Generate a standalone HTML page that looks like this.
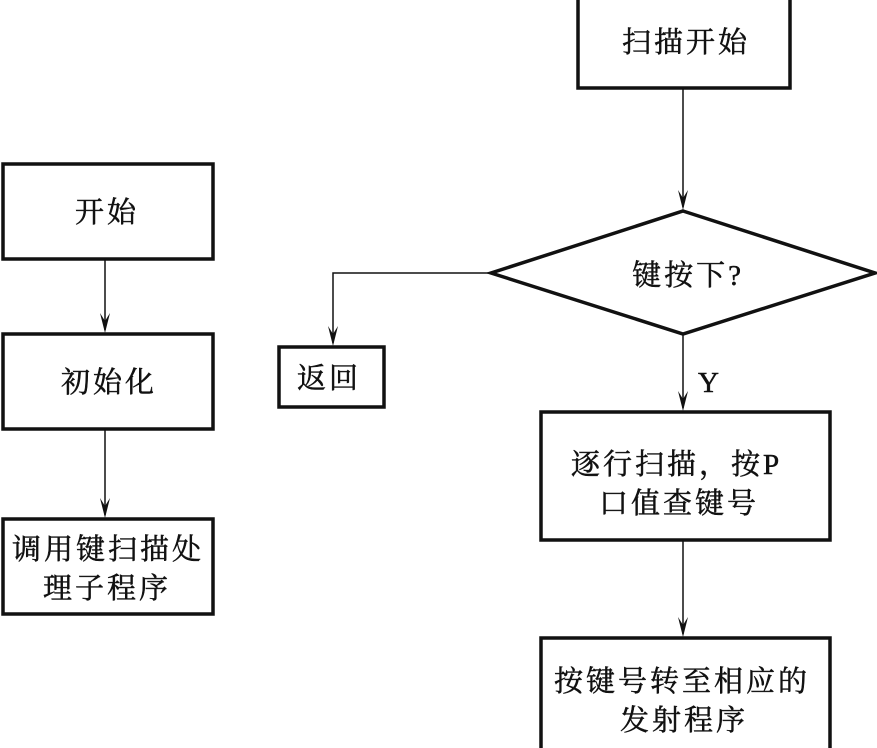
<!DOCTYPE html>
<html><head><meta charset="utf-8"><style>
html,body{margin:0;padding:0;background:#fff;width:877px;height:748px;overflow:hidden}
text{font-family:"Liberation Serif","Noto Serif CJK SC",serif;font-size:29px;letter-spacing:3px;fill:#111;stroke:#111;stroke-width:0.5}
</style></head><body>
<svg width="877" height="748" viewBox="0 0 877 748" xmlns="http://www.w3.org/2000/svg">
<g fill="none" stroke="#111" stroke-width="3.5">
<rect x="3" y="164" width="210" height="95"/>
<rect x="3" y="334" width="210" height="95"/>
<rect x="3" y="519" width="210" height="95"/>
<rect x="279" y="347" width="105" height="60"/>
<rect x="578" y="-5" width="212" height="93"/>
<polygon points="683,211 875,273 683,334 491,273"/>
<rect x="541" y="412" width="289" height="128"/>
<rect x="541" y="638" width="289" height="112"/>
</g>
<g fill="none" stroke="#111" stroke-width="1.5">
<line x1="105" y1="259" x2="105" y2="330"/>
<line x1="105" y1="429" x2="105" y2="515"/>
<line x1="683" y1="88" x2="683" y2="207"/>
<polyline points="491,273 333,273 333,343"/>
<line x1="683" y1="334" x2="683" y2="408"/>
<line x1="683" y1="540" x2="683" y2="634"/>
</g>
<g fill="#111">
<path d="M100,313 L105,333 L110,313 L105,321 Z"/>
<path d="M100,498 L105,518 L110,498 L105,506 Z"/>
<path d="M678,190 L683,210 L688,190 L683,198 Z"/>
<path d="M328,326 L333,346 L338,326 L333,334 Z"/>
<path d="M678,391 L683,411 L688,391 L683,399 Z"/>
<path d="M678,617 L683,637 L688,617 L683,625 Z"/>
</g>
<text x="107" y="222" text-anchor="middle">开始</text>
<text x="109" y="392" text-anchor="middle">初始化</text>
<text x="108" y="559" text-anchor="middle">调用键扫描处</text>
<text x="107" y="598" text-anchor="middle">理子程序</text>
<text x="329" y="388" text-anchor="middle">返回</text>
<text x="686" y="52" text-anchor="middle">扫描开始</text>
<text x="688" y="285" text-anchor="middle">键按下?</text>
<text x="710" y="392" text-anchor="middle">Y</text>
<text x="571" y="474">逐行扫描，按P</text>
<text x="599" y="513">口值查键号</text>
<text x="554" y="691">按键号转至相应的</text>
<text x="620" y="730">发射程序</text>
</svg>
</body></html>
